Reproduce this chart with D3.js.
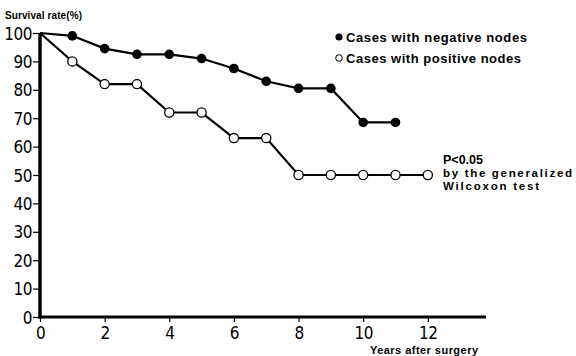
<!DOCTYPE html>
<meta charset="utf-8">
<title>Survival rate after surgery</title>
<style>
    body { margin: 0; background: #fff; }
    .tick text { font-family: "DejaVu Sans Condensed", "Liberation Sans Narrow", sans-serif; font-size: 17px; fill: #000; }
    .lbl { font-family: "Liberation Sans", Arial, sans-serif; font-weight: bold; fill: #000; }
</style>

<svg width="576" height="356"></svg>
<script src="https://cdn.jsdelivr.net/npm/d3@7"></script>
<script>

    var years = [0, 1, 2, 3, 4, 5, 6, 7, 8, 9, 10, 11, 12];
    var negative = [100, 99, 94.5, 92.5, 92.5, 91, 87.5, 83, 80.5, 80.5, 68.5, 68.5];
    var positive = [100, 90, 82, 82, 72, 72, 63, 63, 50, 50, 50, 50, 50];
    var yTicks = [0, 10, 20, 30, 40, 50, 60, 70, 80, 90, 100];
    var xTicks = [0, 2, 4, 6, 8, 10, 12];

    var svg = d3.select("svg");

    var x = d3.scaleLinear().domain([0, 13.8]).range([40, 486]);
    var y = d3.scaleLinear().domain([0, 100]).range([317, 33]);

    // axes
    var yAxis = svg.append("g")
        .attr("transform", "translate(40,0)")
        .call(d3.axisLeft(y).tickValues(yTicks).tickSize(7).tickPadding(1));
    yAxis.select(".domain").remove();
    yAxis.selectAll(".tick line").attr("stroke-width", 1.2);
    yAxis.selectAll(".tick text").attr("dy", "0.36em").attr("letter-spacing", -0.5);

    var xAxis = svg.append("g")
        .attr("transform", "translate(0,317)")
        .call(d3.axisBottom(x).tickValues(xTicks).tickSize(5).tickPadding(5));
    xAxis.select(".domain").remove();
    xAxis.selectAll(".tick line").attr("stroke-width", 1.2);
    xAxis.selectAll(".tick text").attr("letter-spacing", -0.5);

    svg.append("line")
        .attr("x1", x(0)).attr("x2", x(0))
        .attr("y1", y(100)).attr("y2", y(0) + 1.5)
        .attr("stroke", "#000").attr("stroke-width", 3.5);
    svg.append("line")
        .attr("x1", x(0) - 1.5).attr("x2", x(13.8))
        .attr("y1", y(0)).attr("y2", y(0))
        .attr("stroke", "#000").attr("stroke-width", 3);

    // curves
    var line = d3.line()
        .x(function(d, i) { return x(years[i]); })
        .y(function(d) { return y(d); });

    svg.append("path").datum(positive)
        .attr("d", line).attr("fill", "none")
        .attr("stroke", "#000").attr("stroke-width", 2.2);
    svg.append("path").datum(negative)
        .attr("d", line).attr("fill", "none")
        .attr("stroke", "#000").attr("stroke-width", 2.2);

    svg.selectAll(".pos").data(positive.slice(1)).enter().append("circle")
        .attr("cx", function(d, i) { return x(years[i + 1]); })
        .attr("cy", function(d) { return y(d); })
        .attr("r", 4.6)
        .attr("fill", "#fff").attr("stroke", "#000").attr("stroke-width", 1.3);
    svg.selectAll(".neg").data(negative.slice(1)).enter().append("circle")
        .attr("cx", function(d, i) { return x(years[i + 1]); })
        .attr("cy", function(d) { return y(d); })
        .attr("r", 4.8)
        .attr("fill", "#000");

    // labels
    svg.append("text").attr("class", "lbl")
        .attr("x", 5).attr("y", 19)
        .attr("font-size", 10)
        .attr("textLength", 77)
        .text("Survival rate(%)");

    svg.append("text").attr("class", "lbl")
        .attr("x", 370).attr("y", 354)
        .attr("font-size", 11)
        .attr("textLength", 108)
        .text("Years after surgery");

    svg.append("circle").attr("cx", 339).attr("cy", 37).attr("r", 3.6).attr("fill", "#000");
    svg.append("text").attr("class", "lbl")
        .attr("x", 346).attr("y", 42)
        .attr("font-size", 13)
        .attr("textLength", 181)
        .text("Cases with negative nodes");
    svg.append("circle").attr("cx", 339).attr("cy", 58).attr("r", 3.3)
        .attr("fill", "#fff").attr("stroke", "#000").attr("stroke-width", 1);
    svg.append("text").attr("class", "lbl")
        .attr("x", 346).attr("y", 63)
        .attr("font-size", 13)
        .attr("textLength", 175)
        .text("Cases with positive nodes");

    var note = svg.append("text").attr("class", "lbl").attr("font-size", 11.5);
    note.append("tspan").attr("x", 443).attr("y", 164).attr("font-size", 12.5).text("P<0.05");
    note.append("tspan").attr("x", 443).attr("y", 177).attr("textLength", 129).text("by the generalized");
    note.append("tspan").attr("x", 443).attr("y", 190).attr("textLength", 96).text("Wilcoxon test");

</script>
